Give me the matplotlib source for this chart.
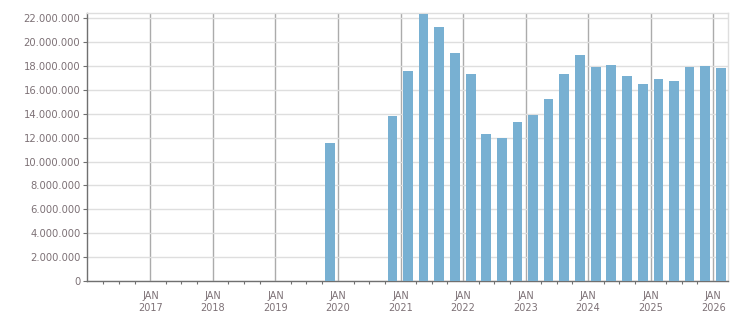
import matplotlib
matplotlib.use("Agg")
import matplotlib.pyplot as plt
import matplotlib.dates as mdates
from matplotlib.ticker import FixedLocator, FuncFormatter
import datetime as dt

quarters = ["2019-Q4",
            "2020-Q4",
            "2021-Q1", "2021-Q2", "2021-Q3", "2021-Q4",
            "2022-Q1", "2022-Q2", "2022-Q3", "2022-Q4",
            "2023-Q1", "2023-Q2", "2023-Q3", "2023-Q4",
            "2024-Q1", "2024-Q2", "2024-Q3", "2024-Q4",
            "2025-Q1", "2025-Q2", "2025-Q3", "2025-Q4",
            "2026-Q1"]
values = [11.52e6,
          13.82e6,
          17.59e6, 22.38e6, 21.29e6, 19.10e6,
          17.34e6, 12.31e6, 11.97e6, 13.31e6,
          13.90e6, 15.24e6, 17.34e6, 18.94e6,
          17.93e6, 18.10e6, 17.17e6, 16.50e6,
          16.92e6, 16.76e6, 17.93e6, 18.01e6,
          17.85e6]
years = list(range(2017, 2027))

def q_center(q):
    y, qq = q.split("-Q")
    m = (int(qq) - 1) * 3 + 2
    return mdates.date2num(dt.datetime(int(y), m, 15))

xs = [q_center(q) for q in quarters]

txt = "#7d7176"
fig = plt.figure(figsize=(7.51, 3.13), dpi=100)
ax = fig.add_axes([87.3/751, 1-281/313, (728.3-87.3)/751, (281-13)/313])
ax.bar(xs, values, width=57, color="#78b0d2", zorder=3)

ax.set_xlim(mdates.date2num(dt.datetime(2015, 12, 29)), mdates.date2num(dt.datetime(2026, 3, 30)))
ax.set_ylim(0, 22.44e6)

ax.set_yticks([i * 2e6 for i in range(12)])
ax.yaxis.set_major_formatter(FuncFormatter(lambda v, p: f"{int(v):,}".replace(",", ".")))

jan = [mdates.date2num(dt.datetime(y, 1, 1)) for y in years]
ax.xaxis.set_major_locator(FixedLocator(jan))
ax.set_xticklabels([f"JAN\n{y}" for y in years])
minor = [mdates.date2num(dt.datetime(y, m, 1)) for y in range(2016, 2027) for m in (4, 7, 10)]
minor = [m for m in minor if m < ax.get_xlim()[1]]
ax.xaxis.set_minor_locator(FixedLocator(minor))

ax.grid(axis="y", color="#dedede", lw=1, zorder=0)
ax.grid(axis="x", which="major", color="#ababab", lw=1, zorder=1)

ax.tick_params(axis="x", which="major", length=0, pad=7, labelsize=7, colors=txt)
ax.tick_params(axis="x", which="minor", length=2.5, width=0.8, color="#707070")
ax.tick_params(axis="y", length=3, width=0.8, color="#707070", labelsize=7.2, labelcolor=txt, pad=2)
for lbl in ax.get_xticklabels():
    lbl.set_linespacing(1.3)

for s in ("left", "bottom"):
    ax.spines[s].set_color("#707070")
    ax.spines[s].set_linewidth(1)
for s in ("top", "right"):
    ax.spines[s].set_color("#dedede")
    ax.spines[s].set_linewidth(1)

fig.savefig("out.png", dpi=100)
